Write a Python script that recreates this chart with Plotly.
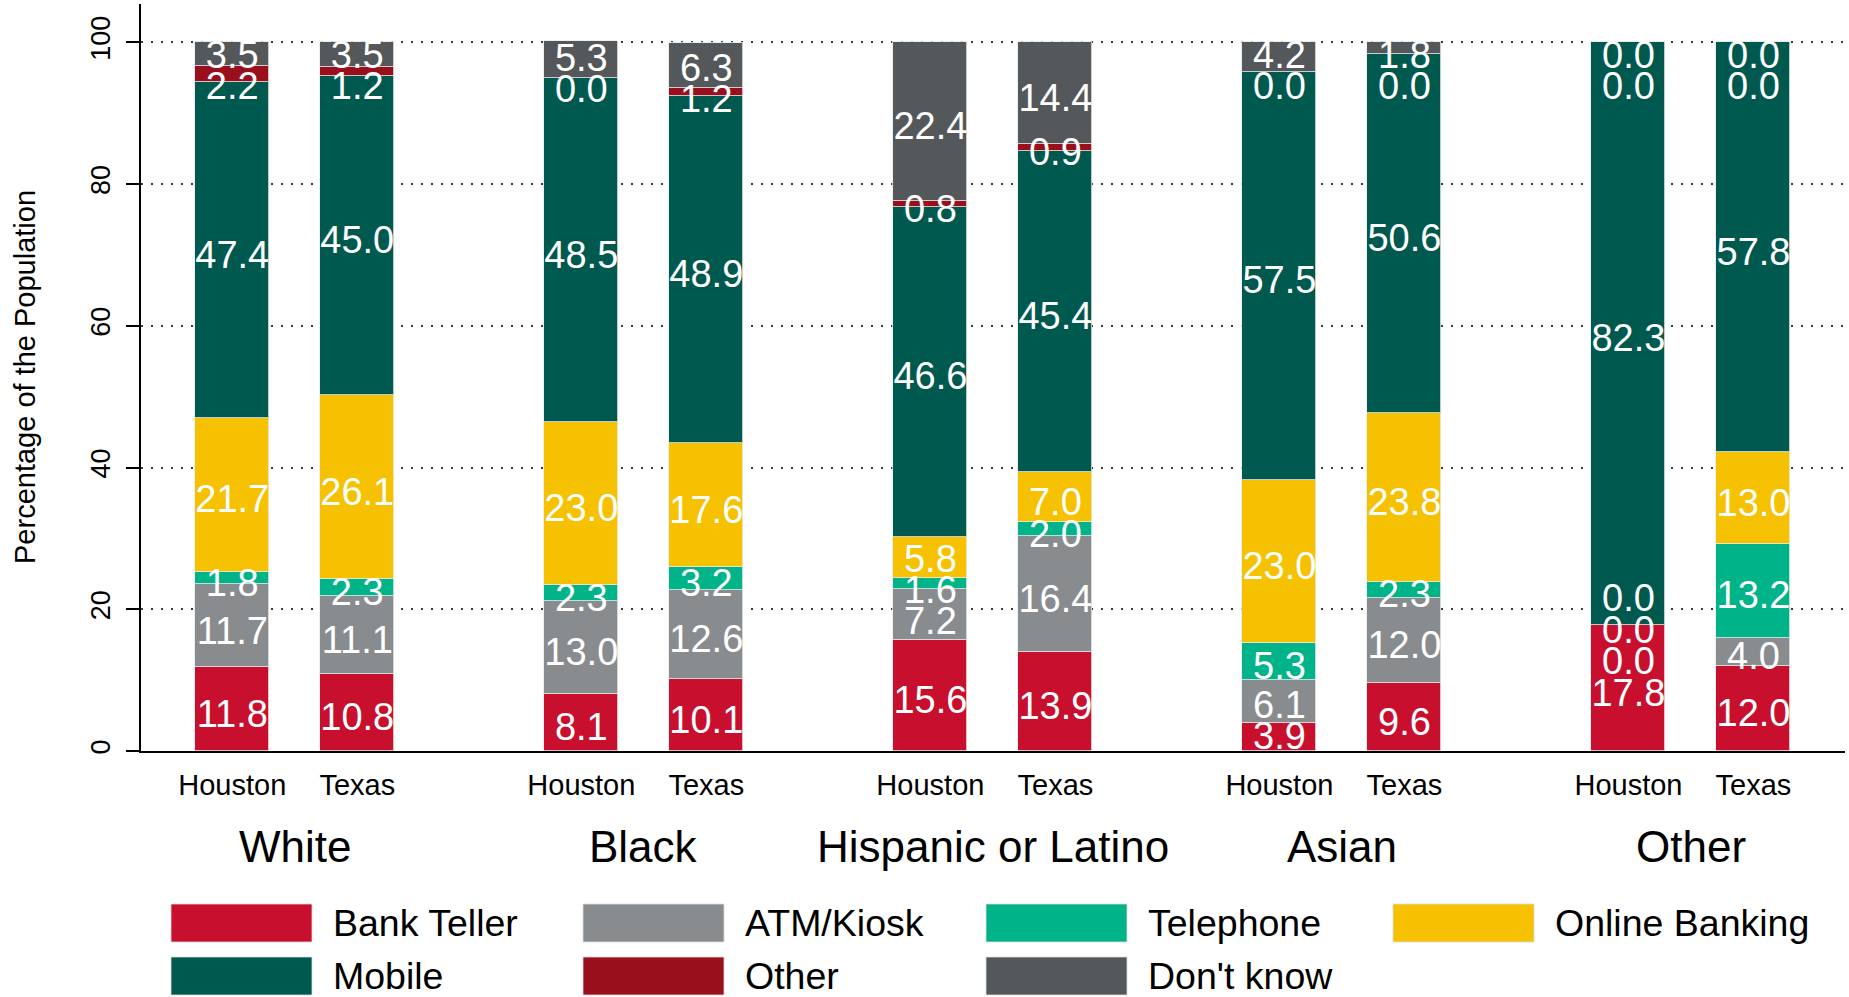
import plotly.graph_objects as go
import numpy as np

# ---------------- data ----------------
groups = ["White", "Black", "Hispanic or Latino", "Asian", "Other"]
regions = ["Houston", "Texas"]
series_names = ["Bank Teller", "ATM/Kiosk", "Telephone", "Online Banking",
                "Mobile", "Other", "Don't know"]
# order of bars: White H, White T, Black H, Black T, Hisp H, Hisp T, Asian H, Asian T, Other H, Other T
bank_teller = [11.8, 10.8, 8.1, 10.1, 15.6, 13.9, 3.9, 9.6, 17.8, 12.0]
atm_kiosk = [11.7, 11.1, 13.0, 12.6, 7.2, 16.4, 6.1, 12.0, 0.0, 4.0]
telephone = [1.8, 2.3, 2.3, 3.2, 1.6, 2.0, 5.3, 2.3, 0.0, 13.2]
online_banking = [21.7, 26.1, 23.0, 17.6, 5.8, 7.0, 23.0, 23.8, 0.0, 13.0]
mobile = [47.4, 45.0, 48.5, 48.9, 46.6, 45.4, 57.5, 50.6, 82.3, 57.8]
other = [2.2, 1.2, 0.0, 1.2, 0.8, 0.9, 0.0, 0.0, 0.0, 0.0]
dont_know = [3.5, 3.5, 5.3, 6.3, 22.4, 14.4, 4.2, 1.8, 0.0, 0.0]
y_ticks = [0, 20, 40, 60, 80, 100]

series = [bank_teller, atm_kiosk, telephone, online_banking, mobile, other, dont_know]
colors = ["#C8102E", "#898C8E", "#00B388", "#F5C100", "#00594F", "#990F1C", "#54585A"]

FONT = "Arial, Liberation Sans, Helvetica, sans-serif"
GROUP_STEP = 2.792
BAR_W = 0.592
pos = [g * GROUP_STEP + j for g in range(len(groups)) for j in range(len(regions))]

fig = go.Figure()
for name, vals, col in zip(series_names, series, colors):
    fig.add_trace(go.Bar(
        x=pos, y=vals, name=name, width=BAR_W,
        marker=dict(color=col, line=dict(color="rgba(235,235,235,0.8)", width=1)),
        showlegend=False,
    ))

# ------------- value labels (centred, with simple overlap repel) -------------
MIN_GAP, LO, HI = 4.4, 2.2, 98.3
LABEL_DROP = 0.6      # labels sit slightly below segment centre
RENDER_SHIFT = 0.55   # compensate text baseline offset
lx, ly, lt = [], [], []
for k in range(len(pos)):
    vals = [s[k] for s in series]
    cum = np.cumsum([0.0] + vals)
    ys = [(cum[i] + cum[i + 1]) / 2 - LABEL_DROP for i in range(len(vals))]
    for _ in range(400):
        for i in range(len(ys) - 1):
            gap = ys[i + 1] - ys[i]
            if gap < MIN_GAP:
                sh = (MIN_GAP - gap) / 2
                ys[i] -= sh
                ys[i + 1] += sh
        ys = [min(max(y, LO), HI) for y in ys]
    for v, y in zip(vals, ys):
        lx.append(pos[k])
        ly.append(y - RENDER_SHIFT)
        lt.append(f"{v:.1f}")

fig.add_trace(go.Scatter(
    x=lx, y=ly, text=lt, mode="text", textposition="middle center",
    textfont=dict(color="white", size=38, family=FONT),
    showlegend=False, hoverinfo="skip", cliponaxis=False,
))

# ---------------- layout ----------------
W, H = 1849, 997
ML, MR, MT, MB = 141, 4, 4, 246
pw, ph = W - ML - MR, H - MT - MB


def px_x(px):
    return (px - ML) / pw


def px_y(py):
    return (H - MB - py) / ph


annotations = []
for g, name in enumerate(groups):
    annotations.append(dict(
        x=g * GROUP_STEP + 0.5, xref="x", y=0, yref="paper", yshift=-95,
        text=name, showarrow=False, xanchor="center", yanchor="middle",
        font=dict(size=44, color="black", family=FONT),
    ))

annotations.append(dict(
    x=0, xref="paper", xshift=25 - ML, y=px_y(377), yref="paper",
    text="Percentage of the Population", textangle=-90, showarrow=False,
    xanchor="center", yanchor="middle",
    font=dict(size=29, color="black", family=FONT),
))

# legend built from shapes + text
col_x = [171, 583, 986, 1393]
row_top = [904, 957]
shapes = []
for i, (name, col) in enumerate(zip(series_names, colors)):
    r, c = divmod(i, 4)
    x0, y0 = col_x[c], row_top[r]
    shapes.append(dict(
        type="rect", xref="paper", yref="paper",
        x0=px_x(x0), x1=px_x(x0 + 141), y0=px_y(y0 + 38), y1=px_y(y0),
        fillcolor=col, line=dict(color="rgba(220,220,220,0.8)", width=1),
    ))
    annotations.append(dict(
        x=px_x(x0 + 160), xref="paper", y=px_y(y0 + 19), yref="paper",
        text=name, showarrow=False, xanchor="left", yanchor="middle",
        font=dict(size=37.5, color="black", family=FONT),
    ))

fig.update_layout(
    barmode="stack",
    width=W, height=H,
    margin=dict(l=ML, r=MR, t=MT, b=MB, pad=0),
    plot_bgcolor="white", paper_bgcolor="white",
    bargap=0,
    annotations=annotations,
    shapes=shapes,
    font=dict(family=FONT, color="black"),
)
fig.update_xaxes(
    range=[-0.730, pos[-1] + 0.732],
    tickvals=pos, ticktext=regions * len(groups),
    tickfont=dict(size=29, color="black", family=FONT),
    ticks="", ticklabelstandoff=7,
    showline=True, linecolor="black", linewidth=2,
    showgrid=False, zeroline=False,
)
fig.update_yaxes(
    range=[0, 105.4],
    tickvals=y_ticks,
    tickfont=dict(size=27, color="black", family=FONT),
    tickangle=-90,
    ticks="outside", ticklen=13, tickwidth=2, tickcolor="black",
    ticklabelstandoff=5,
    showline=True, linecolor="black", linewidth=2,
    showgrid=True, gridcolor="#3a3a3a", gridwidth=2, griddash="2px,8px",
    zeroline=False,
)

fig.write_html("out.html", config={"displayModeBar": False},
               post_script="document.body.style.margin='0';")
